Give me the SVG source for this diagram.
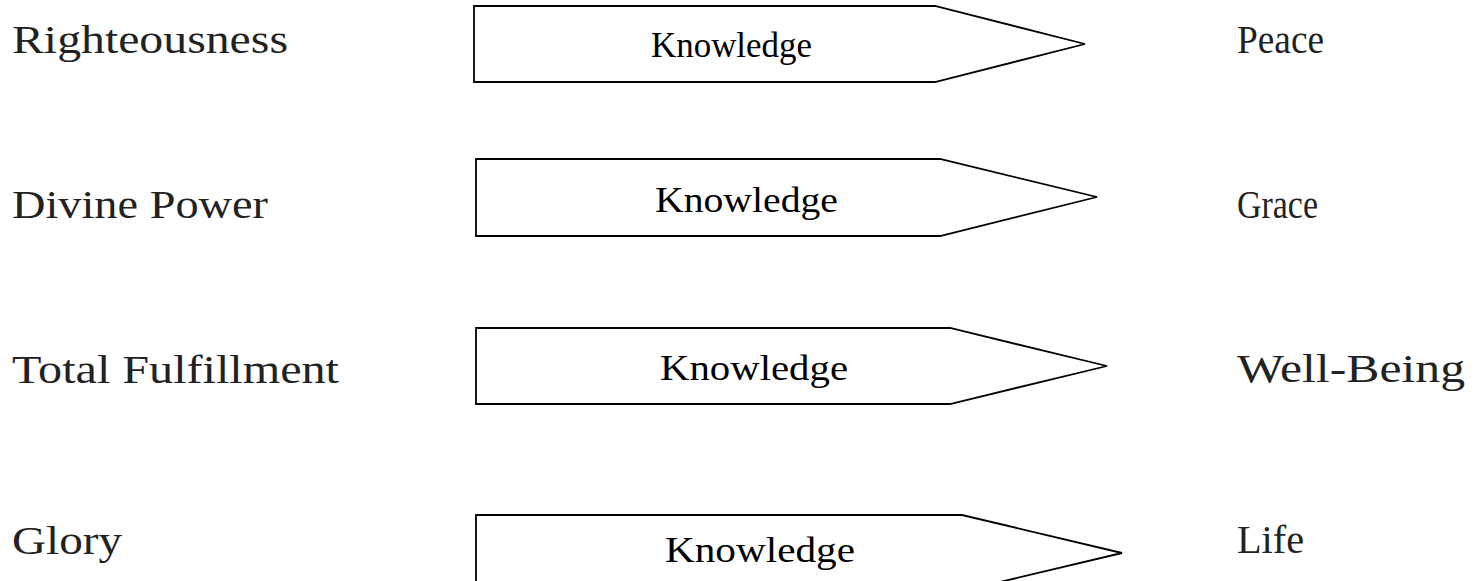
<svg xmlns="http://www.w3.org/2000/svg" width="1481" height="581" viewBox="0 0 1481 581">
<style>
.lbl{font-family:"Liberation Serif",serif;font-size:41px;fill:#222}
.k{font-family:"Liberation Serif",serif;font-size:35px;fill:#000}
.arr{fill:#fff;stroke:#000;stroke-width:1.8}
</style>
<rect width="1481" height="581" fill="#fff"/>
<g id="connectors">
<g id="arrow1"><polygon class="arr" points="474,6 935,6 1085,44 935,82 474,82"/><text class="k" x="651" y="57" textLength="161" lengthAdjust="spacingAndGlyphs">Knowledge</text></g>
<g id="arrow2"><polygon class="arr" points="476,159 940,159 1097,197 940,236 476,236"/><text class="k" x="655" y="212" textLength="183" lengthAdjust="spacingAndGlyphs">Knowledge</text></g>
<g id="arrow3"><polygon class="arr" points="476,328 950,328 1107,366 950,404 476,404"/><text class="k" x="660" y="380" textLength="188" lengthAdjust="spacingAndGlyphs">Knowledge</text></g>
<g id="arrow4"><polygon class="arr" points="476,515 962,515 1122,553 962,591 476,591"/><text class="k" x="665" y="562" textLength="190" lengthAdjust="spacingAndGlyphs">Knowledge</text></g>
</g>
<g id="n-righteousness"><text class="lbl" x="12" y="53" textLength="276" lengthAdjust="spacingAndGlyphs">Righteousness</text></g>
<g id="n-divine"><text class="lbl" x="12" y="218" textLength="256" lengthAdjust="spacingAndGlyphs">Divine Power</text></g>
<g id="n-total"><text class="lbl" x="12" y="383" textLength="327" lengthAdjust="spacingAndGlyphs">Total Fulfillment</text></g>
<g id="n-glory"><text class="lbl" x="12" y="554" textLength="110" lengthAdjust="spacingAndGlyphs">Glory</text></g>
<g id="n-peace"><text class="lbl" x="1237" y="53" textLength="87" lengthAdjust="spacingAndGlyphs">Peace</text></g>
<g id="n-grace"><text class="lbl" x="1237" y="218" textLength="81" lengthAdjust="spacingAndGlyphs">Grace</text></g>
<g id="n-wellbeing"><text class="lbl" x="1237" y="382" textLength="228" lengthAdjust="spacingAndGlyphs">Well-Being</text></g>
<g id="n-life"><text class="lbl" x="1237" y="553" textLength="67" lengthAdjust="spacingAndGlyphs">Life</text></g>
</svg>
